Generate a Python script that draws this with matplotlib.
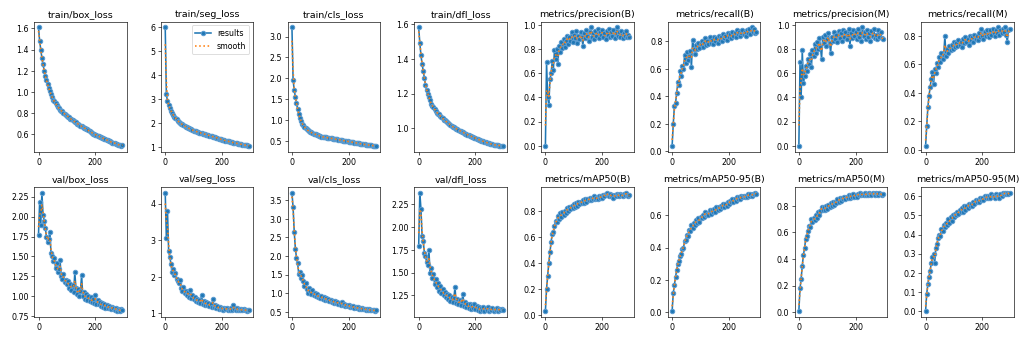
import numpy as np
import matplotlib
matplotlib.use("Agg")
import matplotlib.pyplot as plt
from matplotlib.ticker import MaxNLocator

# one value logged every EPOCH_STEP epochs
EPOCH_STEP = 4

train_box_loss = [1.61, 1.48, 1.40, 1.32, 1.26, 1.20, 1.15, 1.11, 1.07, 1.035, 1.005, 0.975, 0.95, 0.925, 0.91, 0.89,
                  0.875, 0.86, 0.845, 0.83, 0.82, 0.815, 0.80, 0.79, 0.785, 0.775, 0.765, 0.76, 0.745, 0.74, 0.73,
                  0.725, 0.715, 0.71, 0.70, 0.695, 0.69, 0.68, 0.675, 0.665, 0.66, 0.655, 0.645, 0.645, 0.635, 0.625,
                  0.62, 0.615, 0.605, 0.605, 0.595, 0.59, 0.585, 0.58, 0.575, 0.57, 0.565, 0.56, 0.555, 0.55, 0.545,
                  0.54, 0.535, 0.53, 0.525, 0.52, 0.52, 0.515, 0.51, 0.505, 0.50, 0.50, 0.495, 0.49, 0.50]
train_seg_loss = [6.00, 3.20, 2.92, 2.75, 2.62, 2.52, 2.43, 2.35, 2.28, 2.22, 2.16, 2.11, 2.06, 2.02, 1.98, 1.95,
                  1.92, 1.89, 1.86, 1.83, 1.80, 1.78, 1.76, 1.74, 1.72, 1.69, 1.67, 1.66, 1.64, 1.63, 1.61, 1.60,
                  1.58, 1.57, 1.55, 1.54, 1.52, 1.51, 1.50, 1.48, 1.47, 1.45, 1.44, 1.42, 1.41, 1.40, 1.38, 1.36,
                  1.35, 1.33, 1.31, 1.30, 1.29, 1.27, 1.26, 1.25, 1.24, 1.22, 1.21, 1.20, 1.19, 1.18, 1.17, 1.16,
                  1.15, 1.14, 1.13, 1.12, 1.11, 1.10, 1.09, 1.08, 1.07, 1.06, 1.06]
train_cls_loss = [3.22, 1.95, 1.72, 1.55, 1.40, 1.26, 1.14, 1.04, 0.97, 0.91, 0.87, 0.83, 0.80, 0.77, 0.75, 0.73,
                  0.71, 0.70, 0.68, 0.67, 0.66, 0.65, 0.64, 0.63, 0.62, 0.61, 0.60, 0.595, 0.59, 0.585, 0.58, 0.575,
                  0.57, 0.565, 0.56, 0.555, 0.55, 0.545, 0.54, 0.535, 0.53, 0.525, 0.52, 0.515, 0.51, 0.505, 0.50,
                  0.495, 0.49, 0.485, 0.48, 0.475, 0.47, 0.465, 0.46, 0.455, 0.45, 0.445, 0.44, 0.435, 0.43, 0.425,
                  0.42, 0.415, 0.41, 0.405, 0.40, 0.40, 0.395, 0.39, 0.39, 0.385, 0.38, 0.38, 0.38]
train_dfl_loss = [1.58, 1.49, 1.42, 1.37, 1.33, 1.29, 1.25, 1.22, 1.20, 1.18, 1.16, 1.14, 1.13, 1.12, 1.11, 1.10,
                  1.09, 1.085, 1.08, 1.07, 1.065, 1.06, 1.05, 1.045, 1.04, 1.035, 1.03, 1.025, 1.02, 1.015, 1.01,
                  1.005, 1.00, 0.998, 0.995, 0.99, 0.987, 0.984, 0.98, 0.977, 0.974, 0.97, 0.967, 0.964, 0.96, 0.958,
                  0.955, 0.952, 0.95, 0.947, 0.944, 0.94, 0.938, 0.935, 0.932, 0.93, 0.927, 0.925, 0.922, 0.92,
                  0.918, 0.916, 0.914, 0.912, 0.91, 0.908, 0.906, 0.905, 0.904, 0.903, 0.902, 0.901, 0.90, 0.90, 0.90]
precision_b = [0.00, 0.69, 0.40, 0.34, 0.55, 0.60, 0.70, 0.63, 0.79, 0.72, 0.80, 0.68, 0.83, 0.78, 0.86, 0.81,
               0.88, 0.82, 0.87, 0.91, 0.84, 0.90, 0.87, 0.94, 0.86, 0.92, 0.89, 0.95, 0.85, 0.91, 0.88, 0.94,
               0.90, 0.83, 0.93, 0.89, 0.96, 0.91, 0.87, 0.94, 0.98, 0.90, 0.93, 0.88, 0.95, 0.91, 0.97, 0.89,
               0.94, 0.92, 0.96, 0.90, 0.93, 0.88, 0.95, 0.92, 0.97, 0.90, 0.94, 0.91, 0.96, 0.89, 0.93, 0.98,
               0.91, 0.94, 0.90, 0.95, 0.89, 0.93, 0.91, 0.95, 0.90, 0.92, 0.90]
recall_b = [0.04, 0.20, 0.33, 0.35, 0.42, 0.50, 0.48, 0.58, 0.55, 0.62, 0.60, 0.70, 0.64, 0.72, 0.66, 0.69,
            0.73, 0.61, 0.81, 0.74, 0.71, 0.77, 0.74, 0.79, 0.75, 0.78, 0.80, 0.76, 0.79, 0.82, 0.77, 0.80,
            0.78, 0.83, 0.79, 0.81, 0.78, 0.83, 0.80, 0.82, 0.79, 0.84, 0.81, 0.83, 0.80, 0.85, 0.82, 0.84,
            0.81, 0.86, 0.83, 0.85, 0.82, 0.87, 0.84, 0.86, 0.83, 0.88, 0.85, 0.87, 0.84, 0.86, 0.88, 0.85,
            0.87, 0.84, 0.88, 0.86, 0.89, 0.85, 0.90, 0.87, 0.89, 0.86, 0.87]
precision_m = [0.00, 0.69, 0.40, 0.79, 0.52, 0.58, 0.66, 0.62, 0.72, 0.68, 0.76, 0.65, 0.79, 0.74, 0.84, 0.77,
               0.86, 0.80, 0.89, 0.82, 0.72, 0.90, 0.85, 0.92, 0.83, 0.88, 0.93, 0.85, 0.77, 0.90, 0.87, 0.94,
               0.88, 0.92, 0.86, 0.95, 0.89, 0.93, 0.87, 0.96, 0.90, 0.94, 0.88, 0.92, 0.97, 0.83, 0.93, 0.89,
               0.96, 0.91, 0.94, 0.88, 0.97, 0.90, 0.93, 0.87, 0.98, 0.91, 0.94, 0.88, 0.96, 0.90, 0.93, 0.87,
               0.95, 0.91, 0.97, 0.89, 0.92, 0.88, 0.96, 0.90, 0.94, 0.89, 0.88]
recall_m = [0.03, 0.17, 0.30, 0.38, 0.44, 0.50, 0.55, 0.46, 0.57, 0.54, 0.61, 0.58, 0.65, 0.62, 0.68, 0.64,
            0.67, 0.80, 0.66, 0.71, 0.68, 0.73, 0.70, 0.74, 0.71, 0.76, 0.72, 0.75, 0.73, 0.77, 0.74, 0.76,
            0.72, 0.78, 0.75, 0.79, 0.76, 0.78, 0.74, 0.80, 0.77, 0.79, 0.76, 0.81, 0.78, 0.80, 0.77, 0.82,
            0.79, 0.85, 0.80, 0.78, 0.83, 0.80, 0.84, 0.81, 0.79, 0.84, 0.81, 0.85, 0.82, 0.80, 0.84, 0.82,
            0.86, 0.81, 0.84, 0.82, 0.85, 0.83, 0.86, 0.81, 0.76, 0.84, 0.85]

val_box_loss = [1.77, 2.18, 1.90, 2.30, 2.02, 1.95, 1.86, 1.74, 1.68, 1.72, 1.81, 1.55, 1.50, 1.44, 1.48, 1.36,
                1.42, 1.30, 1.34, 1.45, 1.25, 1.22, 1.28, 1.18, 1.21, 1.15, 1.19, 1.11, 1.16, 1.08, 1.14, 1.06,
                1.30, 1.10, 1.03, 1.09, 1.01, 1.07, 1.27, 1.00, 1.05, 0.97, 1.03, 0.96, 1.00, 0.94, 0.99, 0.93,
                0.97, 0.92, 1.02, 0.91, 0.95, 0.90, 0.93, 0.88, 0.92, 0.87, 0.91, 0.86, 0.89, 0.85, 0.88, 0.86,
                0.84, 0.87, 0.85, 0.83, 0.86, 0.82, 0.84, 0.83, 0.82, 0.84, 0.83]
val_seg_loss = [4.30, 3.05, 3.80, 2.70, 2.55, 2.35, 2.14, 2.22, 2.05, 2.10, 1.95, 1.88, 1.82, 1.92, 1.70, 1.62,
                1.72, 1.55, 1.60, 1.50, 1.58, 1.46, 1.65, 1.42, 1.50, 1.38, 1.44, 1.33, 1.40, 1.30, 1.36, 1.28,
                1.50, 1.27, 1.34, 1.24, 1.30, 1.22, 1.28, 1.20, 1.26, 1.18, 1.40, 1.17, 1.22, 1.15, 1.20, 1.13,
                1.18, 1.12, 1.16, 1.10, 1.15, 1.11, 1.14, 1.09, 1.13, 1.10, 1.15, 1.09, 1.22, 1.12, 1.10, 1.14,
                1.09, 1.12, 1.08, 1.11, 1.09, 1.12, 1.08, 1.10, 1.07, 1.09, 1.08]
val_cls_loss = [3.70, 3.30, 2.65, 2.20, 1.95, 1.80, 1.52, 1.58, 1.42, 1.48, 1.32, 1.20, 1.28, 1.12, 1.02, 1.14,
                1.05, 0.98, 1.08, 0.95, 1.00, 0.92, 0.97, 0.90, 0.94, 0.88, 0.92, 0.86, 0.89, 0.83, 0.87, 0.81,
                0.85, 0.79, 0.83, 0.77, 0.80, 0.75, 0.79, 0.73, 0.77, 0.72, 0.75, 0.70, 0.76, 0.69, 0.72, 0.67,
                0.70, 0.65, 0.68, 0.64, 0.66, 0.62, 0.65, 0.61, 0.63, 0.60, 0.62, 0.59, 0.61, 0.58, 0.60, 0.57,
                0.59, 0.56, 0.58, 0.55, 0.57, 0.54, 0.56, 0.54, 0.55, 0.53, 0.54]
val_dfl_loss = [1.79, 2.38, 2.20, 1.90, 1.85, 1.72, 1.68, 1.62, 1.58, 1.75, 1.50, 1.55, 1.44, 1.48, 1.38, 1.43,
                1.34, 1.39, 1.30, 1.35, 1.28, 1.32, 1.25, 1.29, 1.23, 1.27, 1.21, 1.25, 1.19, 1.23, 1.18, 1.22,
                1.34, 1.17, 1.21, 1.15, 1.20, 1.14, 1.19, 1.26, 1.13, 1.18, 1.12, 1.16, 1.11, 1.15, 1.10, 1.14,
                1.11, 1.15, 1.10, 1.13, 1.09, 1.12, 1.08, 1.11, 1.09, 1.12, 1.08, 1.11, 1.09, 1.12, 1.08, 1.10,
                1.09, 1.11, 1.08, 1.10, 1.09, 1.11, 1.08, 1.10, 1.09, 1.10, 1.09]
map50_b = [0.03, 0.20, 0.30, 0.40, 0.48, 0.56, 0.62, 0.64, 0.68, 0.72, 0.71, 0.76, 0.74, 0.78, 0.75, 0.79,
           0.77, 0.80, 0.78, 0.82, 0.80, 0.83, 0.81, 0.84, 0.82, 0.85, 0.83, 0.86, 0.84, 0.87, 0.85, 0.87,
           0.86, 0.88, 0.86, 0.89, 0.87, 0.89, 0.88, 0.90, 0.88, 0.90, 0.89, 0.91, 0.89, 0.90, 0.89, 0.91,
           0.90, 0.91, 0.90, 0.92, 0.91, 0.93, 0.94, 0.92, 0.91, 0.93, 0.91, 0.92, 0.90, 0.92, 0.91, 0.93,
           0.92, 0.91, 0.93, 0.92, 0.91, 0.93, 0.92, 0.94, 0.92, 0.91, 0.92]
map50_95_b = [0.01, 0.12, 0.17, 0.22, 0.26, 0.30, 0.32, 0.35, 0.36, 0.39, 0.40, 0.44, 0.45, 0.48, 0.47, 0.51,
              0.50, 0.54, 0.52, 0.55, 0.54, 0.57, 0.55, 0.58, 0.56, 0.59, 0.58, 0.60, 0.59, 0.62, 0.60, 0.61,
              0.60, 0.63, 0.61, 0.63, 0.62, 0.64, 0.62, 0.65, 0.63, 0.65, 0.64, 0.66, 0.65, 0.67, 0.65, 0.67,
              0.66, 0.68, 0.67, 0.69, 0.68, 0.70, 0.68, 0.70, 0.69, 0.71, 0.70, 0.71, 0.70, 0.72, 0.71, 0.72,
              0.71, 0.72, 0.71, 0.73, 0.72, 0.73, 0.72, 0.73, 0.73, 0.74, 0.73]
map50_m = [0.01, 0.18, 0.25, 0.35, 0.43, 0.48, 0.55, 0.57, 0.61, 0.65, 0.64, 0.70, 0.68, 0.71, 0.69, 0.73,
           0.71, 0.75, 0.73, 0.76, 0.79, 0.77, 0.79, 0.77, 0.80, 0.78, 0.81, 0.79, 0.82, 0.80, 0.83, 0.81,
           0.83, 0.82, 0.85, 0.83, 0.86, 0.84, 0.86, 0.85, 0.87, 0.85, 0.87, 0.86, 0.88, 0.86, 0.88, 0.87,
           0.89, 0.87, 0.88, 0.87, 0.89, 0.88, 0.90, 0.88, 0.89, 0.88, 0.90, 0.88, 0.89, 0.88, 0.90, 0.89,
           0.88, 0.90, 0.89, 0.88, 0.90, 0.89, 0.88, 0.90, 0.89, 0.88, 0.89]
map50_95_m = [0.00, 0.09, 0.14, 0.18, 0.21, 0.25, 0.28, 0.30, 0.25, 0.33, 0.35, 0.38, 0.40, 0.39, 0.43, 0.42,
              0.45, 0.44, 0.46, 0.45, 0.48, 0.46, 0.49, 0.47, 0.50, 0.49, 0.51, 0.50, 0.52, 0.51, 0.53, 0.52,
              0.54, 0.52, 0.55, 0.53, 0.55, 0.54, 0.56, 0.55, 0.56, 0.55, 0.57, 0.56, 0.58, 0.57, 0.58, 0.57,
              0.59, 0.58, 0.59, 0.58, 0.60, 0.59, 0.60, 0.59, 0.60, 0.59, 0.61, 0.60, 0.60, 0.59, 0.61, 0.60,
              0.60, 0.59, 0.61, 0.60, 0.62, 0.61, 0.62, 0.61, 0.62, 0.61, 0.62]

titles = ["train/box_loss", "train/seg_loss", "train/cls_loss", "train/dfl_loss",
          "metrics/precision(B)", "metrics/recall(B)", "metrics/precision(M)", "metrics/recall(M)",
          "val/box_loss", "val/seg_loss", "val/cls_loss", "val/dfl_loss",
          "metrics/mAP50(B)", "metrics/mAP50-95(B)", "metrics/mAP50(M)", "metrics/mAP50-95(M)"]
series = [train_box_loss, train_seg_loss, train_cls_loss, train_dfl_loss,
          precision_b, recall_b, precision_m, recall_m,
          val_box_loss, val_seg_loss, val_cls_loss, val_dfl_loss,
          map50_b, map50_95_b, map50_m, map50_95_m]


def gaussian_smooth(y, sigma):
    """Same idea as scipy's gaussian_filter1d with mode='reflect'."""
    radius = int(4 * sigma + 0.5)
    k = np.arange(-radius, radius + 1)
    w = np.exp(-0.5 * (k / sigma) ** 2)
    w /= w.sum()
    padded = np.pad(y, radius, mode="symmetric")
    return np.convolve(padded, w, mode="valid")


fig, ax = plt.subplots(2, 8, figsize=(18, 6))
fig.subplots_adjust(left=0.0335, right=0.990, top=0.936, bottom=0.071, wspace=0.372, hspace=0.269)
ax = ax.ravel()
for i, (title, values) in enumerate(zip(titles, series)):
    y = np.asarray(values, dtype=float)
    x = np.arange(len(y)) * EPOCH_STEP
    ax[i].plot(x, y, marker=".", label="results", linewidth=2, markersize=11,
               markeredgecolor="#5b9bd0", markeredgewidth=1.4)
    ax[i].plot(x, gaussian_smooth(y, 3 / EPOCH_STEP), ":", label="smooth", linewidth=2)
    ax[i].set_title(title, fontsize=12)
    ax[i].xaxis.set_major_locator(MaxNLocator(nbins=3, steps=[1, 2, 2.5, 5, 10]))
    ax[i].yaxis.set_major_locator(MaxNLocator(nbins=7, steps=[1, 2, 2.5, 5, 10]))
ax[1].legend()

fig.savefig("out.png", dpi=1024 / 18)
